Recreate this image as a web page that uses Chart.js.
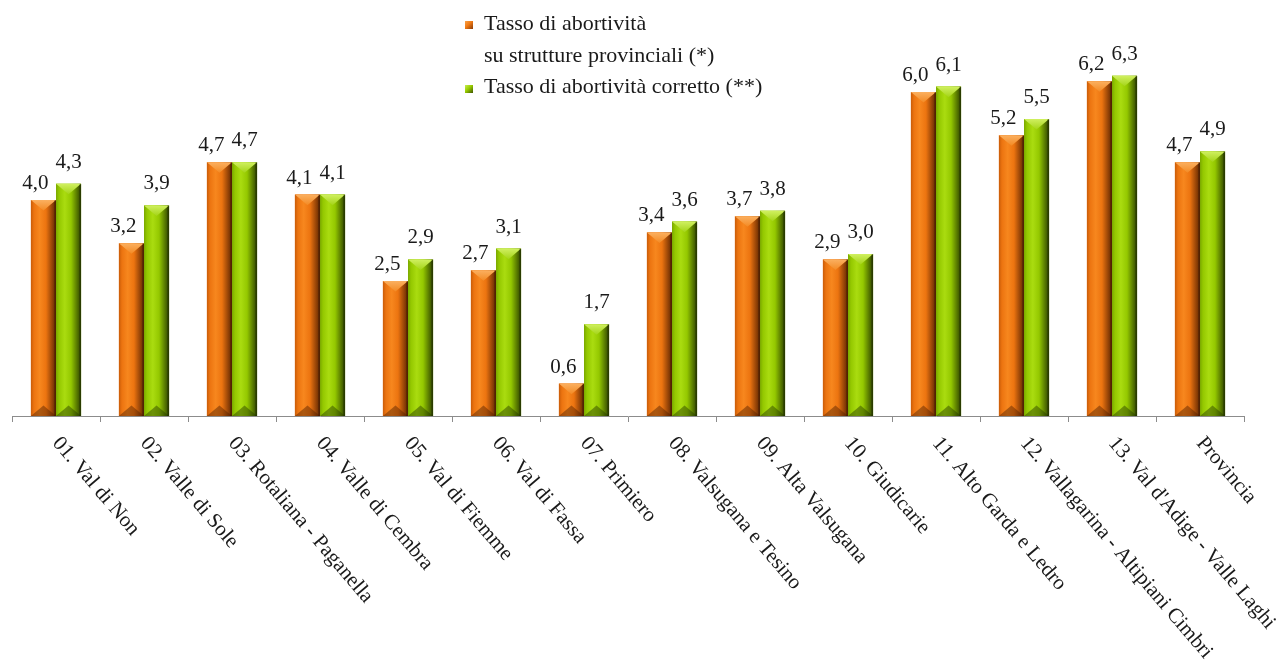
<!DOCTYPE html>
<html lang="it">
<head>
<meta charset="utf-8">
<title>Tasso di abortività per comunità di valle</title>
<script src="https://cdn.jsdelivr.net/npm/chart.js@4.4.1/dist/chart.umd.min.js"></script>
<style>
  html, body { margin: 0; padding: 0; background: #ffffff; }
  #wrap { position: relative; width: 1277px; height: 663px; overflow: hidden; }
  #chart { position: absolute; left: 0; top: 0; }
  .legend { position: absolute; font-family: "Liberation Serif", "DejaVu Serif", serif; font-size: 22px; line-height: 22px; color: #1a1a1a; white-space: nowrap; }
  .sw { position: absolute; width: 8px; height: 8px; }
  .sw.o { background: linear-gradient(135deg, #f9a24a 0%, #f07a14 45%, #8a3a06 100%); }
  .sw.g { background: linear-gradient(135deg, #c8ee52 0%, #98cc00 45%, #3e5400 100%); }
</style>
</head>
<body>
<div id="wrap">
  <canvas id="chart" width="1277" height="663"></canvas>
  <span class="sw o" style="left:465px; top:21px;"></span>
  <div class="legend" style="left:484px; top:12px;">Tasso di abortività</div>
  <div class="legend" style="left:484px; top:44px;">su strutture provinciali (*)</div>
  <span class="sw g" style="left:465px; top:85px;"></span>
  <div class="legend" style="left:484px; top:75px;">Tasso di abortività corretto (**)</div>
</div>
<script>
// Comunità di valle e totale provinciale
const categories = [
  "01. Val di Non", "02. Valle di Sole", "03. Rotaliana - Paganella", "04. Valle di Cembra",
  "05. Val di Fiemme", "06. Val di Fassa", "07. Primiero", "08. Valsugana e Tesino",
  "09. Alta Valsugana", "10. Giudicarie", "11. Alto Garda e Ledro",
  "12. Vallagarina - Altipiani Cimbri", "13. Val d'Adige - Valle Laghi", "Provincia"
];
const seriesNames = ["Tasso di abortività su strutture provinciali (*)", "Tasso di abortività corretto (**)"];
const tassoProvinciale = [4.0, 3.2, 4.7, 4.1, 2.5, 2.7, 0.6, 3.4, 3.7, 2.9, 6.0, 5.2, 6.2, 4.7];
const tassoCorretto    = [4.3, 3.9, 4.7, 4.1, 2.9, 3.1, 1.7, 3.6, 3.8, 3.0, 6.1, 5.5, 6.3, 4.9];

const FONT = '"Liberation Serif", "DejaVu Serif", serif';

const palettes = [
  { base: '#ee7410', edge: '#c95c08', mid: '#ec7410', bright: '#f7871e', dark: '#5e2602',
    top: ['#fbb060', '#f38a24'], bottom: 'rgba(80,30,0,0.45)', labelDx: -8, labelGap: 11 },
  { base: '#96c800', edge: '#7aa800', mid: '#94c800', bright: '#aadc10', dark: '#2e4200',
    top: ['#d0f060', '#a4d418'], bottom: 'rgba(35,55,0,0.45)', labelDx: 0, labelGap: 16 }
];

function fmt(v) { return v.toFixed(1).replace('.', ','); }

// Draws each bar as a bevelled column, on top of the library's own bar element
const bevelPlugin = {
  id: 'bevel',
  afterDatasetsDraw(chart) {
    const ctx = chart.ctx;
    chart.data.datasets.forEach((ds, di) => {
      const meta = chart.getDatasetMeta(di);
      const pal = palettes[di];
      meta.data.forEach((el) => {
        const p = el.getProps(['x', 'y', 'base', 'width'], true);
        const left = p.x - p.width / 2, right = p.x + p.width / 2;
        const top = Math.min(p.y, p.base), bottom = Math.max(p.y, p.base);
        const w = right - left, h = bottom - top;
        const d = Math.min(w * 0.42, h / 2);
        ctx.save();
        // body
        const g = ctx.createLinearGradient(left, 0, right, 0);
        g.addColorStop(0, pal.edge);
        g.addColorStop(0.12, pal.mid);
        g.addColorStop(0.35, pal.bright);
        g.addColorStop(0.6, pal.mid);
        g.addColorStop(1, pal.dark);
        ctx.fillStyle = g;
        ctx.fillRect(left, top, w, h);
        // top bevel
        const gt = ctx.createLinearGradient(0, top, 0, top + d);
        gt.addColorStop(0, pal.top[0]);
        gt.addColorStop(1, pal.top[1]);
        ctx.fillStyle = gt;
        ctx.beginPath();
        ctx.moveTo(left, top);
        ctx.lineTo(right, top);
        ctx.lineTo(p.x, top + d);
        ctx.closePath();
        ctx.fill();
        // bottom bevel
        ctx.fillStyle = pal.bottom;
        ctx.beginPath();
        ctx.moveTo(left, bottom);
        ctx.lineTo(right, bottom);
        ctx.lineTo(p.x, bottom - d);
        ctx.closePath();
        ctx.fill();
        // right side shade
        ctx.fillStyle = 'rgba(0,0,0,0.18)';
        ctx.fillRect(right - 2, top, 2, h);
        ctx.restore();
      });
    });
  }
};

// Value labels above the bars
const valueLabelPlugin = {
  id: 'valueLabels',
  afterDatasetsDraw(chart) {
    const ctx = chart.ctx;
    ctx.save();
    ctx.font = '21px ' + FONT;
    ctx.fillStyle = '#1a1a1a';
    ctx.textAlign = 'center';
    ctx.textBaseline = 'alphabetic';
    chart.data.datasets.forEach((ds, di) => {
      const meta = chart.getDatasetMeta(di);
      const pal = palettes[di];
      meta.data.forEach((el, i) => {
        const p = el.getProps(['x', 'y'], true);
        ctx.fillText(fmt(ds.data[i]), p.x + pal.labelDx, p.y - pal.labelGap);
      });
    });
    ctx.restore();
  }
};

// Slanted category labels, reading downward from each category
const slantLabelPlugin = {
  id: 'slantLabels',
  afterDraw(chart) {
    const ctx = chart.ctx;
    const xs = chart.scales.x;
    const angle = 49.5 * Math.PI / 180;
    ctx.save();
    ctx.font = '21px ' + FONT;
    ctx.fillStyle = '#1a1a1a';
    ctx.textAlign = 'left';
    ctx.textBaseline = 'top';
    chart.data.labels.forEach((lab, i) => {
      const x = xs.getPixelForValue(i);
      ctx.save();
      ctx.translate(x + 8, xs.top + 17);
      ctx.rotate(angle);
      ctx.fillText(lab, 0, 0);
      ctx.restore();
    });
    ctx.restore();
  }
};

new Chart(document.getElementById('chart'), {
  type: 'bar',
  data: {
    labels: categories,
    datasets: [
      { label: seriesNames[0], data: tassoProvinciale, backgroundColor: palettes[0].base,
        categoryPercentage: 0.57, barPercentage: 1.0 },
      { label: seriesNames[1], data: tassoCorretto, backgroundColor: palettes[1].base,
        categoryPercentage: 0.57, barPercentage: 1.0 }
    ]
  },
  options: {
    responsive: false,
    animation: false,
    devicePixelRatio: 1,
    layout: { padding: { left: 12, right: 33, top: 38, bottom: 0 } },
    plugins: { legend: { display: false }, tooltip: { enabled: false } },
    scales: {
      x: {
        offset: true,
        grid: { display: true, drawOnChartArea: false, drawTicks: true, tickLength: 6,
                color: '#8c8c8c', lineWidth: 1, offset: true },
        border: { display: true, color: '#8c8c8c', width: 1 },
        ticks: { display: false },
        afterFit(scale) { scale.height = 247; }
      },
      y: {
        display: false,
        min: 0,
        max: 7
      }
    }
  },
  plugins: [bevelPlugin, valueLabelPlugin, slantLabelPlugin]
});
</script>
</body>
</html>
